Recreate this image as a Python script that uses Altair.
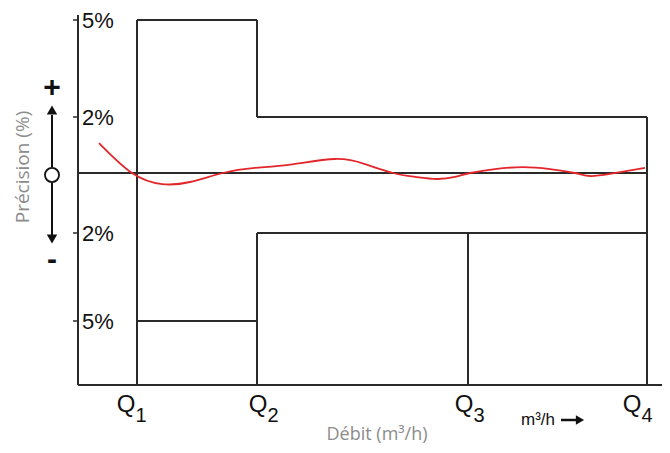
import altair as alt
import pandas as pd

# ---------------- data ----------------
flow_max = 584                     # end of the flow axis (arbitrary flow units)
q_subs = ["1", "2", "3", "4"]
q_flow = [59, 179, 390, 569]       # Q1..Q4 along the flow axis
q_label_flow = [48, 180, 386, 554] # where the Q labels sit

upper_limits = [5, 2]              # MPE (+) for Q1-Q2 and Q2-Q4
lower_limits = [-5, -2]            # MPE (-) for Q1-Q2 and Q2-Q4
y_min, y_max = -7.1, 5.17

tick_values = [5, 2, -2, -5]
tick_labels = ["5%", "2%", "2%", "5%"]

curve_flow = [21, 54, 84, 112, 145, 177, 212, 257, 287, 315, 337, 359, 377,
              392, 417, 445, 472, 497, 512, 532, 567]
curve_err = [1.07, 0, -0.37, -0.3, 0, 0.18, 0.3, 0.5, 0.32, 0, -0.13, -0.2,
             -0.13, 0, 0.14, 0.21, 0.14, 0, -0.1, -0.03, 0.18]

# ---------------- tables ----------------
Q1, Q2, Q3, Q4 = q_flow
segs = [
    (0, 0, y_min, y_max),
    (0, flow_max, y_min, y_min),
    (0, Q4, 0, 0),
    (Q1, Q1, y_min, upper_limits[0]),
    (Q1, Q2, upper_limits[0], upper_limits[0]),
    (Q2, Q2, upper_limits[0], upper_limits[1]),
    (Q2, Q4, upper_limits[1], upper_limits[1]),
    (Q4, Q4, upper_limits[1], y_min),
    (Q1, Q2, lower_limits[0], lower_limits[0]),
    (Q2, Q2, lower_limits[1], y_min),
    (Q2, Q4, lower_limits[1], lower_limits[1]),
    (Q3, Q3, lower_limits[1], y_min),
]
seg_df = pd.DataFrame(segs, columns=["x", "x2", "y", "y2"])
curve_df = pd.DataFrame({"x": curve_flow, "y": curve_err})
tick_df = pd.DataFrame({"y": tick_values, "label": tick_labels})
q_df = pd.DataFrame({"x": q_label_flow, "sub": q_subs})
one = pd.DataFrame({"a": [0]})

xs = alt.Scale(domain=[0, flow_max], nice=False, zero=False)
ys = alt.Scale(domain=[y_min, -5, -2, 0, 2, 5, y_max],
               range=[370, 306, 218, 158, 102, 5, 0], nice=False, zero=False)
X = lambda f="x": alt.X(f, type="quantitative", scale=xs, axis=None)
Y = lambda f="y": alt.Y(f, type="quantitative", scale=ys, axis=None)

ink = "#2a2a2a"
grey = "#8c8c8c"

envelope = alt.Chart(seg_df).mark_rule(color=ink, strokeWidth=2).encode(
    x=X(), x2="x2", y=Y(), y2="y2")

curve = alt.Chart(curve_df).mark_line(color="#e3262b", strokeWidth=1.8,
                                      interpolate="natural").encode(x=X(), y=Y())

ticks = alt.Chart(tick_df).mark_rule(color=ink, strokeWidth=1.5).encode(
    x=alt.value(-5), x2=alt.value(1), y=Y())

tick_text = alt.Chart(tick_df).mark_text(
    align="left", baseline="middle", font="Liberation Sans", fontSize=22,
    color="#111", dy=1).encode(x=alt.value(4), y=Y(), text="label:N")

q_text = alt.Chart(q_df).mark_text(
    align="center", baseline="alphabetic", font="Liberation Sans", fontSize=24,
    color="#111").encode(x=X(), y=alt.value(397), text=alt.value("Q"))
q_sub = alt.Chart(q_df).mark_text(
    align="center", baseline="alphabetic", font="Liberation Sans", fontSize=20,
    color="#111", dx=15).encode(x=X(), y=alt.value(407), text="sub:N")

unit_text = alt.Chart(one).mark_text(
    align="center", baseline="alphabetic", font="Liberation Sans", fontSize=17,
    color="#111").encode(x=alt.value(460), y=alt.value(410), text=alt.value("m³/h"))
unit_line = alt.Chart(one).mark_rule(color="#111", strokeWidth=2.5).encode(
    x=alt.value(483), x2=alt.value(498), y=alt.value(405))
unit_head = alt.Chart(one).mark_point(shape="triangle-right", filled=True,
                                      color="#111", size=90, opacity=1).encode(
    x=alt.value(502), y=alt.value(405))

x_title = alt.Chart(one).mark_text(
    align="center", baseline="alphabetic", font="Open Sans", fontSize=18,
    color=grey).encode(x=alt.value(299), y=alt.value(425),
                       text=alt.value("Débit (m³/h)"))
y_title = alt.Chart(one).mark_text(
    align="center", baseline="middle", font="Open Sans", fontSize=19,
    color=grey, angle=270).encode(x=alt.value(-55), y=alt.value(152),
                                  text=alt.value("Précision (%)"))

plus = alt.Chart(one).mark_text(
    align="center", baseline="middle", font="Liberation Sans", fontSize=30,
    fontWeight="bold", color="#111").encode(x=alt.value(-26), y=alt.value(73),
                                           text=alt.value("+"))
minus = alt.Chart(one).mark_text(
    align="center", baseline="middle", font="Liberation Sans", fontSize=30,
    fontWeight="bold", color="#111").encode(x=alt.value(-26), y=alt.value(245),
                                           text=alt.value("-"))
up_line = alt.Chart(one).mark_rule(color="#111", strokeWidth=2).encode(
    x=alt.value(-26), y=alt.value(100), y2=alt.value(152))
up_head = alt.Chart(one).mark_point(shape="triangle-up", filled=True,
                                    color="#111", size=110, opacity=1).encode(
    x=alt.value(-26), y=alt.value(95))
dn_line = alt.Chart(one).mark_rule(color="#111", strokeWidth=2).encode(
    x=alt.value(-26), y=alt.value(168), y2=alt.value(220))
dn_head = alt.Chart(one).mark_point(shape="triangle-down", filled=True,
                                    color="#111", size=110, opacity=1).encode(
    x=alt.value(-26), y=alt.value(224))
circle = alt.Chart(one).mark_point(shape="circle", filled=False, color="#111",
                                   strokeWidth=1.8, size=200, opacity=1).encode(
    x=alt.value(-26), y=alt.value(160))

chart = alt.layer(
    envelope, curve, ticks, tick_text, q_text, q_sub, unit_text, unit_line,
    unit_head, x_title, y_title, plus, minus, up_line, up_head, dn_line,
    dn_head, circle
).properties(
    width=584, height=370,
    background="white",
    autosize=alt.AutoSizeParams(type="none"),
    padding={"left": 70, "top": 7, "right": 0, "bottom": 60},
).configure_view(stroke=None)

chart.save("out.html", embed_options={"renderer": "svg", "actions": False})
